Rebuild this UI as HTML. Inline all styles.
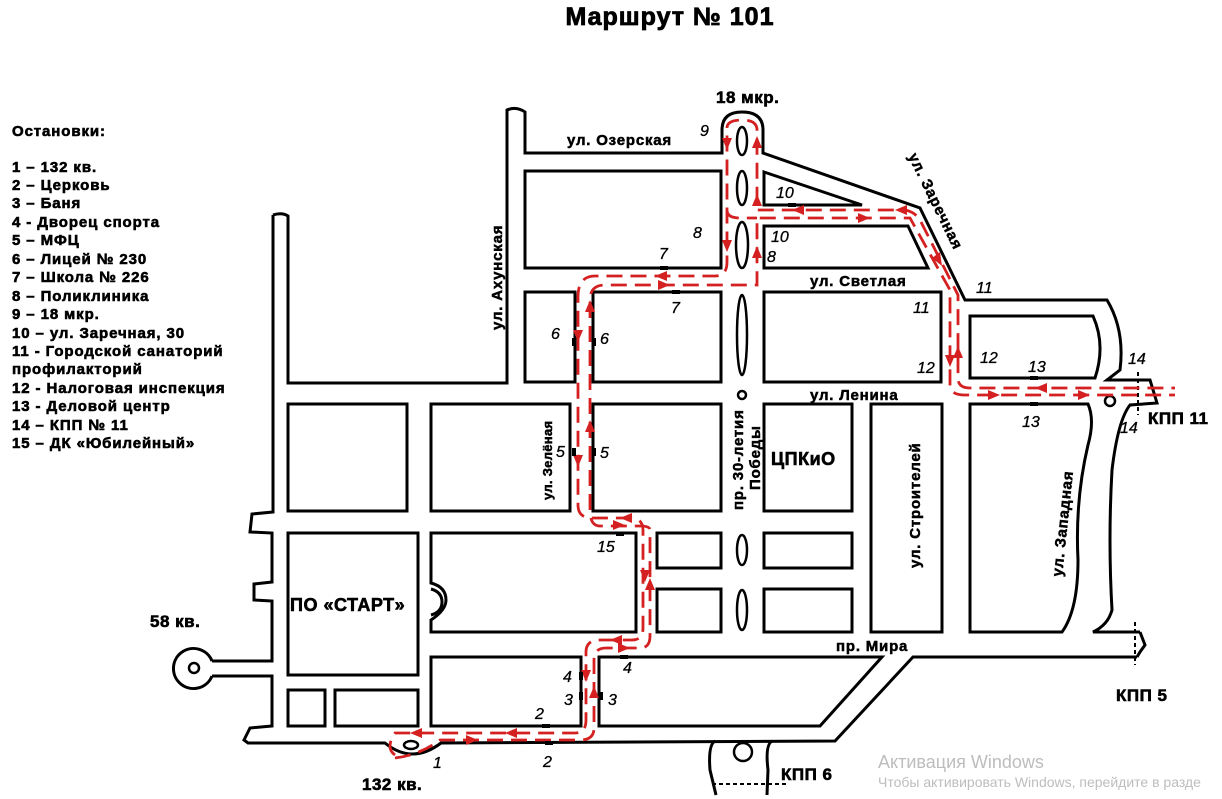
<!DOCTYPE html>
<html><head><meta charset="utf-8"><style>
html,body{margin:0;padding:0;background:#fff;}
svg{display:block;}
text{font-family:"Liberation Sans",sans-serif;}
.b{fill:#fff;stroke:#000;stroke-width:3;}
.l{fill:none;stroke:#000;stroke-width:3;}
.o{fill:#fff;stroke:#000;stroke-width:2.5;}
.r{fill:none;stroke:#d42020;stroke-width:2.8;stroke-dasharray:16 8;}
.lst{font-weight:bold;font-size:15px;letter-spacing:0.9px;stroke:#000;stroke-width:0.6;}
.n{font-style:italic;font-size:16px;stroke:#000;stroke-width:0.3;}
.st{font-weight:bold;font-size:15px;letter-spacing:0.8px;stroke:#000;stroke-width:0.5;}
.big{font-weight:bold;font-size:17px;stroke:#000;stroke-width:0.6;letter-spacing:0.5px;}
</style></head><body>
<svg width="1222" height="799" viewBox="0 0 1222 799" xmlns="http://www.w3.org/2000/svg">
<text x="670" y="25" text-anchor="middle" font-weight="bold" font-size="25" letter-spacing="1" stroke="#000" stroke-width="0.8">Маршрут № 101</text>
<g class="lst">
<text x="12" y="136">Остановки:</text>
<text x="12" y="172">1 – 132 кв.</text>
<text x="12" y="190">2 – Церковь</text>
<text x="12" y="208">3 – Баня</text>
<text x="12" y="227">4 - Дворец спорта</text>
<text x="12" y="245">5 – МФЦ</text>
<text x="12" y="264">6 – Лицей № 230</text>
<text x="12" y="282">7 – Школа № 226</text>
<text x="12" y="301">8 – Поликлиника</text>
<text x="12" y="319">9 – 18 мкр.</text>
<text x="12" y="338">10 – ул. Заречная, 30</text>
<text x="12" y="356">11 - Городской санаторий</text>
<text x="12" y="374">профилакторий</text>
<text x="12" y="393">12 -  Налоговая инспекция</text>
<text x="12" y="411">13 - Деловой центр</text>
<text x="12" y="430">14 – КПП № 11</text>
<text x="12" y="448">15 – ДК «Юбилейный»</text>
</g>

<path class="l" d="M273 215 L273 512 L252 514 L250 532 L272 533 L272 582 L254 584 L254 600 L272 601 L272 661 L212 661"/>
<path class="l" d="M212 676 L272 676 L272 726 L250 728 L244 740 L248 743 L385 743 Q412 765 441 743 L835 741 L913 657 L1137 657"/>
<path class="l" d="M273 215 Q282 212 288 216 L288 383 L507 383 L507 110 Q516 106 525 112 L525 153 L722 153 L722 130 Q722 112 742 112 Q763 112 763 130 L763 153 L920 208 L965 300 L1107 300 Q1125 330 1120 370 L1107 380 L1150 380 L1157 403 L1130 405 Q1118 420 1112 470 Q1108 540 1112 610 Q1108 625 1093 632 L1140 632"/>
<path class="l" d="M1137 657 L1140 652 L1145 645 L1140 632"/>
<path class="l" d="M212 661 A20 20 0 1 0 212 676"/>
<circle cx="194" cy="668" r="5" class="o"/>
<path class="l" d="M715 741 Q708 745 710 770 L716 795"/>
<path class="l" d="M772 741 Q765 745 768 770 L767 795"/>
<line x1="712" y1="784" x2="786" y2="784" stroke="#000" stroke-width="2" stroke-dasharray="4 3"/>
<circle cx="743" cy="752" r="9" class="o"/>
<line x1="1135" y1="622" x2="1135" y2="665" stroke="#000" stroke-width="2" stroke-dasharray="4 3"/>
<line x1="1138" y1="372" x2="1138" y2="415" stroke="#000" stroke-width="2" stroke-dasharray="4 3"/>

<rect class="b" x="525" y="171" width="196" height="97"/>
<rect class="b" x="525" y="292" width="50" height="90"/>
<rect class="b" x="593" y="292" width="128" height="90"/>
<rect class="b" x="288" y="404" width="119" height="107"/>
<rect class="b" x="431" y="404" width="139" height="107"/>
<rect class="b" x="593" y="404" width="128" height="107"/>
<rect class="b" x="764" y="404" width="88" height="107"/>
<rect class="b" x="871" y="404" width="71" height="228"/>
<path class="b" d="M970 404 L1088 404 Q1095 420 1088 445 Q1075 500 1078 560 Q1078 610 1062 632 L970 632 Z"/>
<rect class="b" x="288" y="533" width="130" height="142"/>
<path class="b" d="M431 533 L636 533 L636 632 L431 632 L431 620 Q446 610 446 600 Q446 587 431 583 Z"/>
<path class="l" d="M431 589 Q442 592 442 602 Q442 612 431 615"/>
<rect class="b" x="657" y="533" width="64" height="35"/>
<rect class="b" x="657" y="589" width="64" height="43"/>
<rect class="b" x="764" y="533" width="88" height="35"/>
<rect class="b" x="764" y="589" width="88" height="43"/>
<rect class="b" x="288" y="690" width="37" height="36"/>
<rect class="b" x="335" y="690" width="83" height="36"/>
<rect class="b" x="431" y="657" width="150" height="69"/>
<path class="b" d="M599 657 L882 657 L820 726 L599 726 Z"/>
<rect class="b" x="764" y="292" width="177" height="90"/>
<path class="b" d="M764 172 L862 205 L764 205 Z"/>
<path class="b" d="M764 226 L908 226 L928 268 L764 268 Z"/>
<path class="b" d="M970 316 L1093 316 Q1106 345 1095 378 L970 378 Z"/>

<ellipse class="o" cx="742" cy="141" rx="5" ry="14"/>
<ellipse class="o" cx="742" cy="188" rx="5" ry="17"/>
<ellipse class="o" cx="742" cy="245" rx="6" ry="23"/>
<ellipse class="o" cx="742" cy="335" rx="5" ry="40"/>
<circle class="o" cx="742" cy="395" r="4"/>
<ellipse class="o" cx="742" cy="550" rx="5" ry="15"/>
<ellipse class="o" cx="742" cy="610" rx="5" ry="20"/>
<circle class="o" cx="1110" cy="401" r="5"/>
<ellipse class="o" cx="411" cy="745" rx="7" ry="4"/>

<g class="r">
<path d="M395 755 Q385 748 395 733 L575 733 Q586 733 586 720 L586 652 Q586 640 600 640 L632 640 Q643 640 643 628 L643 530 Q643 518 630 518 L592 518 Q578 518 578 505 L578 297 Q578 276 595 276 L715 276 Q727 276 727 262 L727 128"/>
<path d="M395 758 Q420 755 440 740 L580 740 Q594 740 594 728 L594 660 Q594 648 606 648 L640 648 Q650 648 650 636 L650 530 Q650 526 640 526 L600 526 Q590 526 590 510 L590 300 Q590 285 605 285 L757 285 L757 218 L910 218 L950 290 L950 385 Q950 395 965 395 L1175 395"/>
<path d="M727 128 Q727 120 742 120 Q757 120 757 130 L757 210 L905 210 Q915 212 920 220 L958 295 L958 378 Q958 388 970 388 L1175 388"/>
<path d="M727 210 Q727 218 740 218 L757 218"/>
</g>
<g fill="#d42020">
<path d="M573 330 L583 330 L578 342 Z"/><path d="M585 312 L595 312 L590 300 Z"/>
<path d="M585 432 L595 432 L590 420 Z"/><path d="M573 455 L583 455 L578 467 Z"/>
<path d="M640 570 L650 570 L645 582 Z"/><path d="M645 590 L655 590 L650 578 Z"/>
<path d="M581 670 L591 670 L586 682 Z"/><path d="M589 698 L599 698 L594 686 Z"/>
<path d="M620 518 L632 513 L632 523 Z"/><path d="M625 525 L613 520 L613 530 Z"/>
<path d="M610 640 L622 635 L622 645 Z"/><path d="M630 648 L618 643 L618 653 Z"/>
<path d="M410 733 L422 728 L422 738 Z"/><path d="M478 740 L466 735 L466 745 Z"/>
<path d="M505 733 L517 728 L517 738 Z"/>
<path d="M655 276 L667 271 L667 281 Z"/><path d="M670 285 L658 280 L658 290 Z"/>
<path d="M722 138 L732 138 L727 150 Z"/><path d="M722 240 L732 240 L727 252 Z"/>
<path d="M752 148 L762 148 L757 136 Z"/><path d="M752 258 L762 258 L757 246 Z"/>
<path d="M752 206 L762 206 L757 194 Z"/>
<path d="M792 210 L804 205 L804 215 Z"/><path d="M870 218 L858 213 L858 223 Z"/>
<path d="M895 210 L907 205 L907 215 Z"/>
<path d="M945 355 L955 355 L950 367 Z"/><path d="M953 358 L963 358 L958 346 Z"/>
<path d="M932 258 L940 252 L942 266 Z"/>
<path d="M1000 395 L988 390 L988 400 Z"/><path d="M1035 388 L1047 383 L1047 393 Z"/>
<path d="M1090 395 L1078 390 L1078 400 Z"/>
</g>
<g fill="#000">
<rect x="660" y="266" width="8" height="4"/><rect x="672" y="290" width="8" height="4"/>
<rect x="572" y="338" width="4" height="8"/><rect x="592" y="338" width="4" height="8"/>
<rect x="572" y="448" width="4" height="8"/><rect x="592" y="448" width="4" height="8"/>
<rect x="616" y="532" width="8" height="4"/><rect x="620" y="655" width="8" height="4"/>
<rect x="579" y="672" width="4" height="8"/><rect x="579" y="692" width="4" height="8"/><rect x="599" y="692" width="4" height="8"/>
<rect x="542" y="724" width="8" height="4"/><rect x="545" y="741" width="8" height="4"/>
<rect x="1030" y="376" width="8" height="4"/><rect x="1030" y="402" width="8" height="4"/>
<rect x="788" y="203" width="8" height="4"/>
</g>
<g class="n">
<text x="433" y="768">1</text><text x="535" y="719">2</text><text x="543" y="767">2</text>
<text x="564" y="705">3</text><text x="608" y="705">3</text><text x="563" y="682">4</text><text x="623" y="673">4</text>
<text x="556" y="457">5</text><text x="600" y="458">5</text><text x="551" y="339">6</text><text x="600" y="344">6</text>
<text x="659" y="259">7</text><text x="671" y="313">7</text><text x="693" y="238">8</text><text x="767" y="262">8</text>
<text x="700" y="136">9</text><text x="776" y="198">10</text><text x="771" y="242">10</text>
<text x="976" y="293">11</text><text x="913" y="313">11</text><text x="917" y="373">12</text><text x="980" y="363">12</text>
<text x="1028" y="372">13</text><text x="1022" y="427">13</text><text x="1128" y="364">14</text><text x="1120" y="433">14</text>
<text x="597" y="552">15</text>
</g>
<g class="st">
<text x="567" y="145">ул. Озерская</text>
<text x="810" y="286">ул. Светлая</text>
<text x="810" y="400">ул. Ленина</text>
<text x="836" y="651">пр. Мира</text>
<text transform="translate(502,330) rotate(-90)">ул. Ахунская</text>
<text transform="translate(552,500) rotate(-90)" font-size="13" letter-spacing="0.3">ул. Зелёная</text>
<text transform="translate(743,510) rotate(-90)">пр. 30-летия</text>
<text transform="translate(760,490) rotate(-90)">Победы</text>
<text transform="translate(920,568) rotate(-90)">ул. Строителей</text>
<text transform="translate(1062,577) rotate(-84)">ул. Западная</text>
<text transform="translate(908,156) rotate(64)">ул. Заречная</text>
</g>
<g class="big">
<text x="716" y="103">18 мкр.</text>
<text x="150" y="627">58 кв.</text>
<text x="362" y="790">132 кв.</text>
<text x="1148" y="424">КПП 11</text>
<text x="1116" y="701">КПП 5</text>
<text x="781" y="780">КПП 6</text>
<text x="290" y="611" font-size="18">ПО «СТАРТ»</text>
<text x="771" y="465" font-size="18">ЦПКиО</text>
</g>
<text x="878" y="768" font-size="18" fill="#bdbdbd">Активация Windows</text>
<text x="878" y="787" font-size="14" fill="#bdbdbd">Чтобы активировать Windows, перейдите в разде</text>
</svg>
</body></html>
